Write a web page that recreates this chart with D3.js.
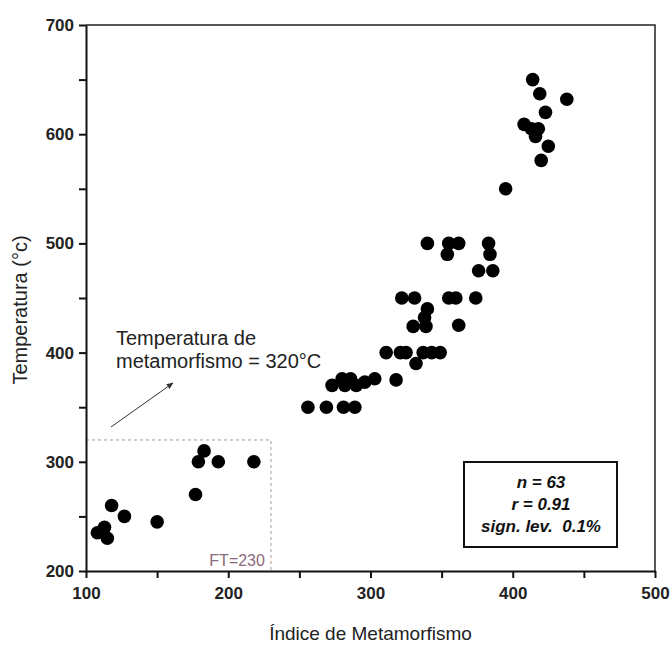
<!DOCTYPE html>
<html lang="pt-br">
<head>
  <meta charset="utf-8">
  <title>Temperatura x Indice de Metamorfismo</title>
  <script src="https://d3js.org/d3.v7.min.js"></script>
  <style>
    body { margin: 0; background: #fff; }
    svg text { font-family: "Liberation Sans", Arial, sans-serif; white-space: pre; }
  </style>
</head>
<body>
<div id="chart"></div>
<script>
"use strict"

// dados: indice de metamorfismo (x) e temperatura (y)
var indice = [108, 113, 115, 118, 127, 150, 177, 179, 183, 193, 218,
  256, 269, 281, 289,
  273, 280, 282, 286, 290, 296, 303, 318,
  311, 321, 325, 337, 343, 349, 332,
  330, 339, 362, 338, 340,
  322, 331, 355, 360, 374,
  376, 386, 354, 384,
  340, 355, 362, 383,
  395,
  414, 419, 438, 423, 408, 413, 418, 416, 425, 420];
var temperatura = [235, 240, 230, 260, 250, 245, 270, 300, 310, 300, 300,
  350, 350, 350, 350,
  370, 376, 370, 376, 370, 373, 376, 375,
  400, 400, 400, 400, 400, 400, 390,
  424, 424, 425, 432, 440,
  450, 450, 450, 450, 450,
  475, 475, 490, 490,
  500, 500, 500, 500,
  550,
  650, 637, 632, 620, 609, 605, 605, 598, 589, 576];

var xTicks = [100, 200, 300, 400, 500];
var yTicks = [200, 300, 400, 500, 600, 700];
var estatisticas = ["n = 63", "r = 0.91", "sign. lev.  0.1%"];
var limiteFT = 230, limiteTemp = 320;

var larguraSVG = 672, alturaSVG = 645;

var svg = d3.select("#chart").append("svg")
  .attr("width", larguraSVG)
  .attr("height", alturaSVG);

/*
 * escalas
 */
var x = d3.scaleLinear().domain([100, 500]).range([86, 655]);
var y = d3.scaleLinear().domain([200, 700]).range([571, 25]);

// moldura superior e direita
svg.append("path")
  .attr("d", "M" + x(100) + "," + y(700) + "H" + x(500) + "V" + y(200))
  .attr("fill", "none")
  .attr("stroke", "#222")
  .attr("stroke-width", 1.5);

// caixa tracejada FT=230
svg.append("path")
  .attr("d", "M" + x(100) + "," + y(limiteTemp) + "H" + x(limiteFT) + "V" + y(200))
  .attr("fill", "none")
  .attr("stroke", "#9a9a9a")
  .attr("stroke-width", 1)
  .attr("stroke-dasharray", "3,3");

svg.append("text")
  .attr("x", x(limiteFT) - 6)
  .attr("y", y(200) - 5)
  .attr("text-anchor", "end")
  .attr("font-size", 16)
  .attr("fill", "#8a6a7c")
  .text("FT=" + limiteFT);

/*
 * eixos
 */
var eixoX = svg.append("g")
  .attr("transform", "translate(0," + y(200) + ")")
  .call(d3.axisBottom(x).tickValues(d3.range(100, 501, 50)).tickSize(7).tickSizeOuter(0)
    .tickFormat(d => xTicks.indexOf(d) >= 0 ? d : ""));
var eixoY = svg.append("g")
  .attr("transform", "translate(" + x(100) + ",0)")
  .call(d3.axisLeft(y).tickValues(d3.range(200, 701, 50)).tickSize(7).tickSizeOuter(0)
    .tickFormat(d => yTicks.indexOf(d) >= 0 ? d : ""));

[eixoX, eixoY].forEach(function(g) {
  g.select(".domain").attr("stroke", "#111").attr("stroke-width", 2);
  g.selectAll(".tick line").attr("stroke", "#111").attr("stroke-width", 2);
  g.selectAll(".tick text")
    .attr("font-family", "'Liberation Sans', Arial, sans-serif")
    .attr("font-size", 17)
    .attr("font-weight", "bold")
    .attr("fill", "#222");
});
eixoX.selectAll(".tick text").attr("dy", "1.05em");
eixoY.selectAll(".tick text").attr("x", -12);

// titulos dos eixos
svg.append("text")
  .attr("x", x(300))
  .attr("y", 640)
  .attr("text-anchor", "middle")
  .attr("font-size", 19)
  .attr("fill", "#222")
  .text("Índice de Metamorfismo");

svg.append("text")
  .attr("transform", "translate(27," + 310 + ") rotate(-90)")
  .attr("text-anchor", "middle")
  .attr("font-size", 20)
  .attr("fill", "#222")
  .text("Temperatura (°c)");

/*
 * pontos
 */
svg.append("g").selectAll("circle")
  .data(indice)
  .enter()
  .append("circle")
    .attr("cx", (d, i) => x(d))
    .attr("cy", (d, i) => y(temperatura[i]))
    .attr("r", 6.8)
    .attr("fill", "#000");

/*
 * anotacao
 */
svg.append("defs").append("marker")
  .attr("id", "seta")
  .attr("viewBox", "0 0 10 10")
  .attr("refX", 9).attr("refY", 5)
  .attr("markerWidth", 7).attr("markerHeight", 7)
  .attr("orient", "auto")
  .append("path")
    .attr("d", "M0,1L10,5L0,9Z")
    .attr("fill", "#333");

svg.append("line")
  .attr("x1", 111).attr("y1", 427)
  .attr("x2", 173).attr("y2", 383)
  .attr("stroke", "#333")
  .attr("stroke-width", 1)
  .attr("marker-end", "url(#seta)");

var anot = svg.append("text")
  .attr("font-size", 20)
  .attr("fill", "#222");
anot.append("tspan").attr("x", 116).attr("y", 345).text("Temperatura de");
anot.append("tspan").attr("x", 116).attr("y", 368).text("metamorfismo = " + limiteTemp + "°C");

/*
 * caixa de estatisticas
 */
svg.append("rect")
  .attr("x", 464).attr("y", 462)
  .attr("width", 153).attr("height", 85)
  .attr("fill", "#fff")
  .attr("stroke", "#111")
  .attr("stroke-width", 2);

svg.append("g").selectAll("text")
  .data(estatisticas)
  .enter()
  .append("text")
    .attr("x", 541)
    .attr("y", (d, i) => 488 + i * 22)
    .attr("text-anchor", "middle")
    .attr("font-size", 17)
    .attr("font-weight", "bold")
    .attr("font-style", "italic")
    .attr("fill", "#111")
    .text(d => d);
</script>
</body>
</html>
